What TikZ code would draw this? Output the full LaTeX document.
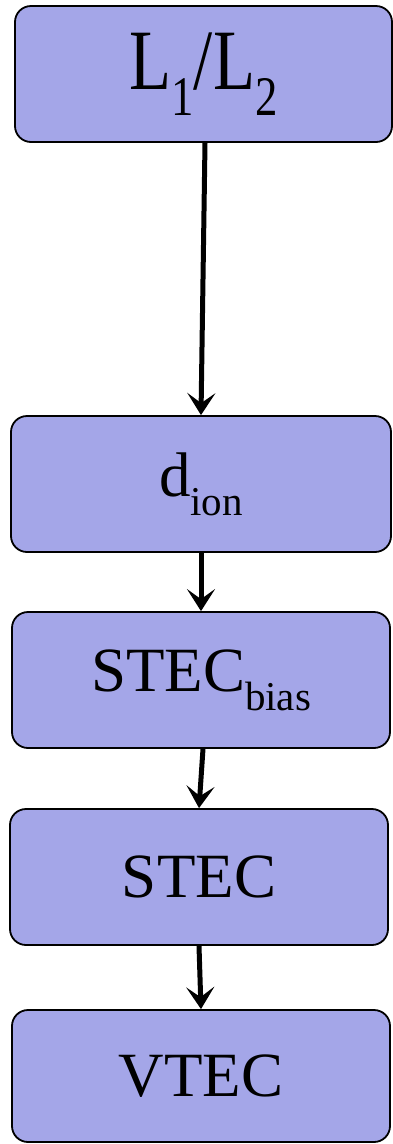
\documentclass[tikz,border=0pt]{standalone}
\usepackage{fontspec}
\setmainfont{Liberation Serif}
\usetikzlibrary{arrows.meta}
\definecolor{boxfill}{HTML}{A4A6E8}
\newcommand{\mysub}[1]{\raisebox{-0.3em}{\scalebox{0.65}{#1}}}
\tikzset{
  flowbox/.style={draw=black, line width=1.8pt, fill=boxfill, rounded corners=16pt,
    minimum width=378pt, minimum height=136pt, inner sep=0pt,
    font=\fontsize{63}{66}\selectfont},
  flowarrow/.style={line width=5pt, -{Stealth[length=22pt,width=28pt,inset=10pt]}}
}
\begin{document}
\begin{tikzpicture}[x=1pt,y=-1pt]
\useasboundingbox (0,0) rectangle (393,1144);
\node[flowbox, minimum width=377pt] (l) at (203.5,74) {\fontsize{86}{90}\selectfont\scalebox{0.8}[1]{L\mysub{1}/L\mysub{2}}};
\node[flowbox, minimum width=380pt] (d) at (201,484) {d\mysub{ion}};
\node[flowbox] (sb) at (201,680) {STEC\mysub{bias}};
\node[flowbox] (s) at (199,877) {STEC};
\node[flowbox, minimum height=132pt] (v) at (201,1076) {VTEC};
\coordinate (a1) at ([xshift=1.5pt]l.south);
\coordinate (a2) at ([xshift=2pt]sb.south);
\draw[flowarrow] (a1) -- (d.north);
\draw[flowarrow] (d.south) -- (sb.north);
\draw[flowarrow] (a2) -- (s.north);
\draw[flowarrow] (s.south) -- (v.north);
\end{tikzpicture}
\end{document}
